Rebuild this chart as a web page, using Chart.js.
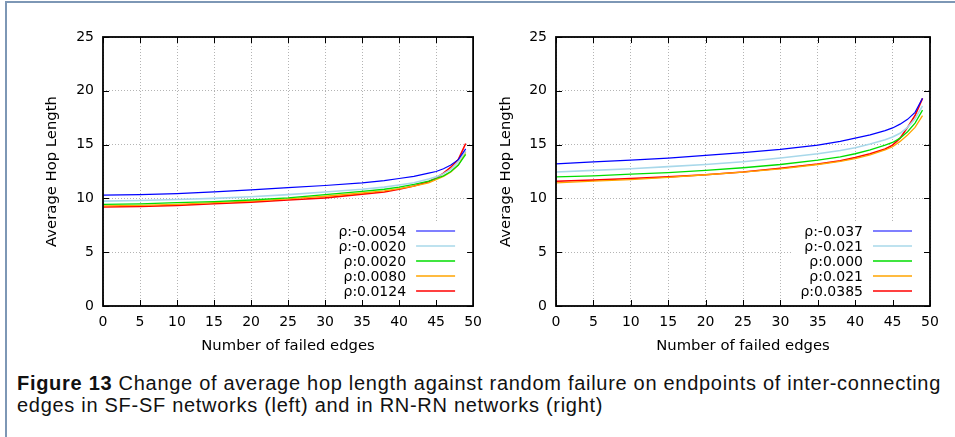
<!DOCTYPE html>
<html>
<head>
  <meta charset="utf-8">
  <script src="https://cdn.jsdelivr.net/npm/chart.js@4.4.0/dist/chart.umd.min.js"></script>
  <style>
    html, body { margin: 0; padding: 0; background: #fff; }
    body { width: 955px; height: 437px; position: relative; overflow: hidden; }
    .frame {
      position: absolute; left: 5px; top: 1px; width: 960px; height: 450px;
      border-left: 2px solid #7d97b5; border-top: 2px solid #7d97b5;
    }
    .panel { position: absolute; top: 0; }
    #left { left: 0; }
    #right { left: 480px; }
    .caption {
      position: absolute; left: 17px; top: 372px; margin: 0; white-space: nowrap;
      font-family: "Liberation Sans", sans-serif; font-size: 20px; line-height: 22px; color: #111;
    }
  </style>
  <title>Average hop length</title>
</head>
<body>
  <div class="frame"></div>
  <div class="panel" id="left"><canvas id="sfsf" width="490" height="360"></canvas></div>
  <div class="panel" id="right"><canvas id="rnrn" width="475" height="360"></canvas></div>
  <p class="caption" id="caption"><span id="capLine"><b>Figure 13</b> Change of average hop length against random failure on endpoints of inter-connecting</span><br>edges in SF-SF networks (left) and in RN-RN networks (right)</p>

  <script>
    // number of failed edges (x positions of the samples)
    const failedEdges = [0, 5, 10, 15, 20, 25, 30, 35, 38, 40, 42, 44, 45, 46, 47, 48, 49];

    // SF-SF networks
    const sfLabels = ["ρ:-0.0054", "ρ:-0.0020", "ρ:0.0020", "ρ:0.0080", "ρ:0.0124"];
    const hopSF_m0054 = [10.3, 10.35, 10.45, 10.6, 10.8, 11.0, 11.2, 11.45, 11.65, 11.85, 12.05, 12.35, 12.5, 12.75, 13.1, 13.6, 14.6];
    const hopSF_m0020 = [9.75, 9.8, 9.9, 10.0, 10.15, 10.35, 10.6, 10.85, 11.05, 11.25, 11.45, 11.8, 12.0, 12.3, 12.7, 13.4, 14.4];
    const hopSF_p0020 = [9.45, 9.5, 9.6, 9.7, 9.85, 10.05, 10.35, 10.65, 10.85, 11.05, 11.3, 11.6, 11.85, 12.1, 12.5, 13.1, 14.1];
    const hopSF_p0080 = [9.3, 9.35, 9.45, 9.6, 9.75, 9.95, 10.2, 10.5, 10.7, 10.9, 11.15, 11.45, 11.75, 12.05, 12.45, 13.1, 14.3];
    const hopSF_p0124 = [9.2, 9.25, 9.35, 9.5, 9.65, 9.85, 10.05, 10.4, 10.6, 10.85, 11.15, 11.55, 11.9, 12.35, 12.9, 13.6, 15.1];

    // RN-RN networks
    const rnLabels = ["ρ:-0.037", "ρ:-0.021", "ρ:0.000", "ρ:0.021", "ρ:0.0385"];
    const hopRN_m037 = [13.2, 13.4, 13.55, 13.75, 14.0, 14.25, 14.55, 14.95, 15.3, 15.6, 15.9, 16.3, 16.55, 16.9, 17.35, 18.0, 19.3];
    const hopRN_m021 = [12.45, 12.6, 12.75, 12.95, 13.15, 13.4, 13.75, 14.15, 14.45, 14.7, 15.05, 15.45, 15.7, 16.05, 16.6, 17.4, 18.6];
    const hopRN_p000 = [12.0, 12.1, 12.25, 12.4, 12.6, 12.85, 13.15, 13.55, 13.85, 14.15, 14.5, 14.95, 15.2, 15.6, 16.2, 17.0, 18.2];
    const hopRN_p021 = [11.45, 11.6, 11.75, 11.95, 12.2, 12.45, 12.75, 13.15, 13.45, 13.7, 14.05, 14.5, 14.8, 15.3, 15.9, 16.6, 17.7];
    const hopRN_p0385 = [11.6, 11.7, 11.85, 12.0, 12.2, 12.45, 12.8, 13.2, 13.5, 13.8, 14.15, 14.6, 14.95, 15.6, 16.6, 17.7, 19.3];

    const lineColors = ["#0000ff", "#a8d8ea", "#00dd00", "#ffa500", "#ff0000"];
    const lineWidths = [1.2, 1.6, 1.3, 1.3, 1.6];

    const FONT = "DejaVu Sans";

    // gnuplot-ish frame: opaque key at bottom right, border and inward ticks on all sides
    const gnuplotFrame = {
      id: "gnuplotFrame",
      afterDatasetsDraw(chart) {
        const ctx = chart.ctx;
        const a = chart.chartArea;
        const xs = chart.scales.x, ys = chart.scales.y;
        const sets = chart.data.datasets;

        // key
        ctx.save();
        ctx.font = "14px " + FONT;
        const textRight = a.right - 67;
        let maxW = 0;
        sets.forEach(d => { maxW = Math.max(maxW, ctx.measureText(d.label).width); });
        const rowH = 15;
        const firstRow = a.bottom - 15 - rowH * (sets.length - 1);
        ctx.fillStyle = "#fff";
        ctx.fillRect(textRight - maxW - 8, firstRow - 9, a.right - (textRight - maxW - 8), a.bottom - firstRow + 9);
        ctx.textAlign = "right";
        ctx.textBaseline = "middle";
        sets.forEach((d, i) => {
          const yy = firstRow + i * rowH;
          ctx.fillStyle = "#000";
          ctx.fillText(d.label, textRight, yy + 1);
          ctx.strokeStyle = d.borderColor;
          ctx.lineWidth = d.borderWidth;
          ctx.beginPath();
          ctx.moveTo(a.right - 57, yy);
          ctx.lineTo(a.right - 18, yy);
          ctx.stroke();
        });

        // ticks
        ctx.strokeStyle = "#000";
        ctx.lineWidth = 1;
        ctx.beginPath();
        xs.ticks.forEach(t => {
          const px = Math.round(xs.getPixelForValue(t.value)) + 0.5;
          ctx.moveTo(px, a.bottom); ctx.lineTo(px, a.bottom - 6);
          ctx.moveTo(px, a.top); ctx.lineTo(px, a.top + 6);
        });
        ys.ticks.forEach(t => {
          const py = Math.round(ys.getPixelForValue(t.value)) + 0.5;
          ctx.moveTo(a.left, py); ctx.lineTo(a.left + 6, py);
          ctx.moveTo(a.right, py); ctx.lineTo(a.right - 6, py);
        });
        ctx.stroke();

        // border
        ctx.lineWidth = 1.8;
        ctx.strokeRect(a.left, a.top, a.right - a.left, a.bottom - a.top);
        ctx.restore();
      }
    };

    function makeSets(labels, series) {
      return series.map((vals, i) => ({
        label: labels[i],
        data: vals.map((v, j) => ({ x: failedEdges[j], y: v })),
        borderColor: lineColors[i],
        borderWidth: lineWidths[i],
        pointRadius: 0,
        tension: 0,
        fill: false
      }));
    }

    function draw_chart(canvasId, labels, series, yAxisWidth, yTitlePad, padRight) {
      return new Chart(document.getElementById(canvasId), {
        type: "line",
        data: { datasets: makeSets(labels, series) },
        options: {
          responsive: false,
          animation: false,
          layout: { padding: { top: 37, right: padRight, left: 0, bottom: 0 } },
          plugins: { legend: { display: false }, tooltip: { enabled: false } },
          scales: {
            x: {
              type: "linear",
              min: 0, max: 50,
              afterFit: s => { s.height = 54; },
              ticks: { stepSize: 5, color: "#000", font: { family: FONT, size: 14 }, padding: 8, maxRotation: 0 },
              grid: { color: "#b4b4b4", drawTicks: false, lineWidth: 1 },
              border: { display: false, dash: [1, 2] },
              title: { display: true, text: "Number of failed edges", color: "#000", font: { family: FONT, size: 14.8 }, padding: { top: 0, bottom: 5 } }
            },
            y: {
              min: 0, max: 25,
              afterFit: s => { s.width = yAxisWidth; },
              ticks: { stepSize: 5, color: "#000", font: { family: FONT, size: 14 }, padding: 9 },
              grid: { color: "#b4b4b4", drawTicks: false, lineWidth: 1 },
              border: { display: false, dash: [1, 2] },
              title: { display: true, text: "Average Hop Length", color: "#000", font: { family: FONT, size: 14.8 }, padding: { top: yTitlePad, bottom: 0 } }
            }
          }
        },
        plugins: [gnuplotFrame]
      });
    }

    draw_chart("sfsf", sfLabels, [hopSF_m0054, hopSF_m0020, hopSF_p0020, hopSF_p0080, hopSF_p0124], 103, 43, 14);
    draw_chart("rnrn", rnLabels, [hopRN_m037, hopRN_m021, hopRN_p000, hopRN_p021, hopRN_p0385], 76, 17, 25);

    // spread the caption so its first line runs across the figure width
    const capLine = document.getElementById("capLine");
    const nChars = capLine.textContent.length;
    const extra = (924 - capLine.getBoundingClientRect().width) / nChars;
    document.getElementById("caption").style.letterSpacing = extra.toFixed(2) + "px";
  </script>
</body>
</html>
